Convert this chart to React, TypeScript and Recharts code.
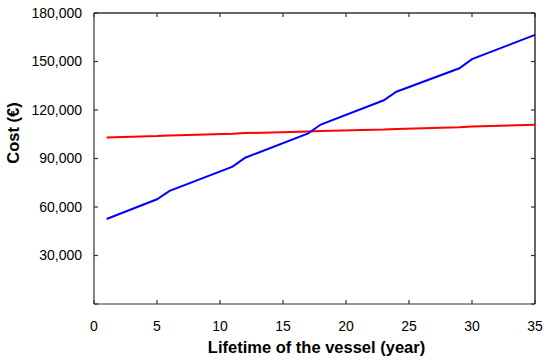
import React from 'react';
import { LineChart, Line, XAxis, YAxis, Label, ReferenceLine } from 'recharts';

const years = [1, 5, 6, 11, 12, 17, 18, 23, 24, 29, 30, 35];
const blueCost = [52600, 64800, 70000, 85000, 90500, 105500, 111000, 126000, 131300, 145800, 151500, 166500];
const redCost = [103000, 103900, 104300, 105300, 105700, 106700, 107000, 107900, 108300, 109300, 109800, 110900];
const xTicks = [0, 5, 10, 15, 20, 25, 30, 35];
const yTicks = [0, 30000, 60000, 90000, 120000, 150000, 180000];

const data = years.map((y, i) => ({ year: y, blue: blueCost[i], red: redCost[i] }));

const FONT = '"Liberation Sans", Arial, sans-serif';
const AXIS = '#333333';

const W = 550;
const H = 363;
const M_TOP = 13;
const M_RIGHT = 15;
const Y_W = 94;
const X_H = 59;
const PLOT_W = W - Y_W - M_RIGHT;
const PLOT_H = H - M_TOP - X_H;
const X_MARGIN = 17;
const Y_MARGIN = 12;
const TL = 4;

const fmt = (v: number) => (v === 0 ? '' : v.toLocaleString('en-US'));

const BottomTick = (props: any) => {
  const { x, y, payload } = props;
  const ay = y - X_MARGIN;
  const ty = ay - PLOT_H;
  return (
    <g>
      <line x1={x} x2={x} y1={ay} y2={ay - TL} stroke={AXIS} strokeWidth={1.2} />
      <line x1={x} x2={x} y1={ty} y2={ty + TL} stroke={AXIS} strokeWidth={1.2} />
      <text x={x} y={y} dy="0.71em" textAnchor="middle" fontFamily={FONT} fontSize={14} fill="#000">
        {payload.value}
      </text>
    </g>
  );
};

const LeftTick = (props: any) => {
  const { x, y, payload } = props;
  const ax = x + Y_MARGIN;
  const rx = ax + PLOT_W;
  return (
    <g>
      <line x1={ax} x2={ax + TL} y1={y} y2={y} stroke={AXIS} strokeWidth={1.2} />
      <line x1={rx} x2={rx - TL} y1={y} y2={y} stroke={AXIS} strokeWidth={1.2} />
      <text x={x} y={y} dy="0.355em" textAnchor="end" fontFamily={FONT} fontSize={14} fill="#000">
        {fmt(payload.value)}
      </text>
    </g>
  );
};

export default function App() {
  return (
    <div style={{ position: 'absolute', left: 0, top: 0, width: W, height: H, background: '#fff' }}>
      <LineChart
        width={W}
        height={H}
        data={data}
        margin={{ top: M_TOP, right: M_RIGHT, left: 0, bottom: 0 }}
      >
        <XAxis
          dataKey="year"
          type="number"
          domain={[0, 35]}
          ticks={xTicks}
          height={X_H}
          stroke={AXIS}
          strokeWidth={1.2}
          tickLine={false}
          tickSize={0}
          tickMargin={X_MARGIN}
          tick={<BottomTick />}
          interval={0}
        >
          <Label
            content={(props: any) => {
              const vb = props.viewBox || {};
              return (
                <text
                  x={vb.x + vb.width / 2 + 2}
                  y={vb.y + 49}
                  textAnchor="middle"
                  fontFamily={FONT}
                  fontWeight="bold"
                  fontSize={16.5}
                  fill="#000"
                >
                  Lifetime of the vessel (year)
                </text>
              );
            }}
          />
        </XAxis>
        <YAxis
          domain={[0, 180000]}
          ticks={yTicks}
          width={Y_W}
          stroke={AXIS}
          strokeWidth={1.2}
          tickLine={false}
          tickSize={0}
          tickMargin={Y_MARGIN}
          tick={<LeftTick />}
          interval={0}
        >
          <Label
            content={(props: any) => {
              const vb = props.viewBox || {};
              const cx = vb.x + 19;
              const cy = vb.y + 120;
              return (
                <text
                  x={cx}
                  y={cy}
                  transform={`rotate(-90 ${cx} ${cy})`}
                  textAnchor="middle"
                  fontFamily={FONT}
                  fontWeight="bold"
                  fontSize={16.5}
                  fill="#000"
                >
                  Cost (€)
                </text>
              );
            }}
          />
        </YAxis>
        <ReferenceLine y={180000} stroke={AXIS} strokeWidth={1.5} />
        <ReferenceLine x={35} stroke={AXIS} strokeWidth={1.5} />
        <Line
          dataKey="red"
          stroke="#ff0000"
          strokeWidth={2}
          dot={false}
          type="linear"
          isAnimationActive={false}
        />
        <Line
          dataKey="blue"
          stroke="#0000ff"
          strokeWidth={2}
          dot={false}
          type="linear"
          isAnimationActive={false}
        />
      </LineChart>
    </div>
  );
}
